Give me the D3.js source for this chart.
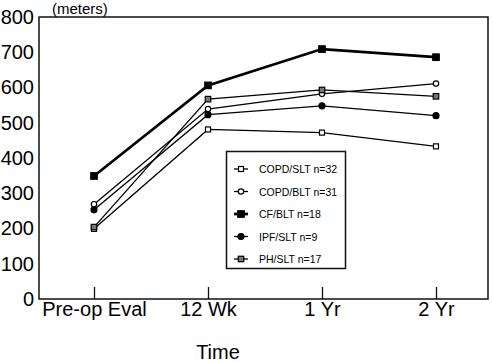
<!DOCTYPE html>
<html>
<head>
<meta charset="utf-8">
<script src="https://cdn.jsdelivr.net/npm/d3@7"></script>
<style>
  body { margin: 0; background: #fff; }
  svg { display: block; font-family: "Liberation Sans", Arial, Helvetica, sans-serif; }
</style>
</head>
<body>
<div id="chart"></div>
<script>
// Six-minute walk distance over time, by diagnosis group

const timePoints = ["Pre-op Eval", "12 Wk", "1 Yr", "2 Yr"];
const yTicks = [0, 100, 200, 300, 400, 500, 600, 700, 800];

const seriesNames = ["COPD/SLT n=32", "COPD/BLT n=31", "CF/BLT n=18", "IPF/SLT n=9", "PH/SLT n=17"];
const copdSlt = [199, 481, 472, 433];
const copdBlt = [269, 539, 582, 611];
const cfBlt = [349, 606, 709, 686];
const ipfSlt = [253, 523, 548, 520];
const phSlt = [204, 567, 593, 575];

const seriesValues = [copdSlt, copdBlt, cfBlt, ipfSlt, phSlt];

// marker look for each series
const styles = [
  { shape: "square", size: 5, fill: "#fff", width: 1.3 },
  { shape: "circle", size: 2.7, fill: "#fff", width: 1.3 },
  { shape: "square", size: 6.5, fill: "#000", width: 2.7 },
  { shape: "circle", size: 3, fill: "#000", width: 1.3 },
  { shape: "square", size: 5.5, fill: "#777", width: 1.3 }
];

const width = 493, height = 363;
const frame = { left: 39, right: 488, top: 17, bottom: 299 };

const svg = d3.select("#chart").append("svg")
  .attr("width", width)
  .attr("height", height);

const x = d3.scalePoint()
  .domain(timePoints)
  .range([94, 436]);

const y = d3.scaleLinear()
  .domain([0, 800])
  .range([frame.bottom, frame.top]);

// frame box
svg.append("rect")
  .attr("x", frame.left)
  .attr("y", frame.top)
  .attr("width", frame.right - frame.left)
  .attr("height", frame.bottom - frame.top)
  .attr("fill", "none")
  .attr("stroke", "#111")
  .attr("stroke-width", 1.5);

// y axis labels (no tick marks)
const yAxis = svg.append("g")
  .attr("transform", `translate(${frame.left},0)`)
  .call(d3.axisLeft(y).tickValues(yTicks).tickSize(0).tickPadding(5).tickFormat(d3.format("d")));
yAxis.select(".domain").remove();
yAxis.selectAll("text")
  .attr("font-size", 20)
  .attr("font-family", "Liberation Sans, Arial, sans-serif")
  .attr("fill", "#000");

// x axis with inward ticks
const xAxis = svg.append("g")
  .attr("transform", `translate(0,${frame.bottom})`)
  .call(d3.axisBottom(x).tickSize(-12).tickPadding(3));
xAxis.select(".domain").remove();
xAxis.selectAll("line").attr("stroke", "#111").attr("stroke-width", 1.3);
xAxis.selectAll("text")
  .attr("font-size", 20)
  .attr("font-family", "Liberation Sans, Arial, sans-serif")
  .attr("fill", "#000");

svg.append("text")
  .attr("x", 52)
  .attr("y", 14)
  .attr("font-size", 15)
  .text("(meters)");

svg.append("text")
  .attr("x", 218)
  .attr("y", 359)
  .attr("text-anchor", "middle")
  .attr("font-size", 20)
  .text("Time");

function drawMarker(g, st, cx, cy) {
  if (st.shape === "square") {
    g.append("rect")
      .attr("x", cx - st.size / 2)
      .attr("y", cy - st.size / 2)
      .attr("width", st.size)
      .attr("height", st.size)
      .attr("fill", st.fill)
      .attr("stroke", "#000")
      .attr("stroke-width", 1.2);
  } else {
    g.append("circle")
      .attr("cx", cx)
      .attr("cy", cy)
      .attr("r", st.size)
      .attr("fill", st.fill)
      .attr("stroke", "#000")
      .attr("stroke-width", 1.2);
  }
}

const line = d3.line()
  .x((d, i) => x(timePoints[i]))
  .y(d => y(d));

const plot = svg.append("g");
seriesValues.forEach((vals, s) => {
  plot.append("path")
    .attr("d", line(vals))
    .attr("fill", "none")
    .attr("stroke", "#000")
    .attr("stroke-width", styles[s].width);
});
seriesValues.forEach((vals, s) => {
  const g = plot.append("g");
  vals.forEach((v, i) => drawMarker(g, styles[s], x(timePoints[i]), y(v)));
});

// legend
const legend = svg.append("g");
legend.append("rect")
  .attr("x", 226.5)
  .attr("y", 151.5)
  .attr("width", 119)
  .attr("height", 117)
  .attr("fill", "#fff")
  .attr("stroke", "#111")
  .attr("stroke-width", 1.5);

seriesNames.forEach((name, i) => {
  const ly = 169 + i * 22.5;
  const g = legend.append("g");
  g.append("line")
    .attr("x1", 234).attr("x2", 248)
    .attr("y1", ly).attr("y2", ly)
    .attr("stroke", "#000")
    .attr("stroke-width", styles[i].width);
  drawMarker(g, styles[i], 241, ly);
  g.append("text")
    .attr("x", 259)
    .attr("y", ly + 4)
    .attr("font-size", 10.5)
    .text(name);
});
</script>
</body>
</html>
